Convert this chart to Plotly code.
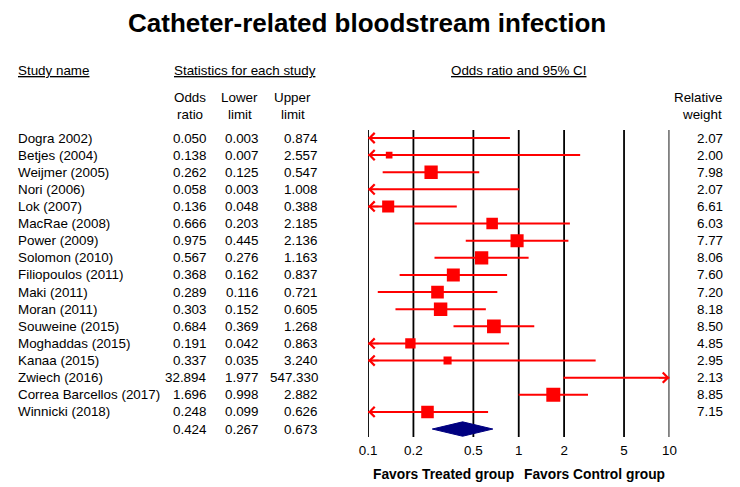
import math
import plotly.graph_objects as go

title = "Catheter-related bloodstream infection"
studies = ["Dogra 2002)", "Betjes (2004)", "Weijmer (2005)", "Nori (2006)", "Lok (2007)",
           "MacRae (2008)", "Power (2009)", "Solomon (2010)", "Filiopoulos (2011)", "Maki (2011)",
           "Moran (2011)", "Souweine (2015)", "Moghaddas (2015)", "Kanaa (2015)", "Zwiech (2016)",
           "Correa Barcellos (2017)", "Winnicki (2018)"]
odds = [0.050, 0.138, 0.262, 0.058, 0.136, 0.666, 0.975, 0.567, 0.368, 0.289,
        0.303, 0.684, 0.191, 0.337, 32.894, 1.696, 0.248]
lower = [0.003, 0.007, 0.125, 0.003, 0.048, 0.203, 0.445, 0.276, 0.162, 0.116,
         0.152, 0.369, 0.042, 0.035, 1.977, 0.998, 0.099]
upper = [0.874, 2.557, 0.547, 1.008, 0.388, 2.185, 2.136, 1.163, 0.837, 0.721,
         0.605, 1.268, 0.863, 3.240, 547.330, 2.882, 0.626]
weights = [2.07, 2.00, 7.98, 2.07, 6.61, 6.03, 7.77, 8.06, 7.60, 7.20,
           8.18, 8.50, 4.85, 2.95, 2.13, 8.85, 7.15]
pooled = (0.424, 0.267, 0.673)
tick_vals = [0.1, 0.2, 0.5, 1, 2, 5, 10]
tick_text = ["0.1", "0.2", "0.5", "1", "2", "5", "10"]
xmin, xmax = 0.1, 10

W, H = 740, 487
FONT = "Liberation Sans, Arial, sans-serif"
FS = 13.4
RED = "#ff0000"
NAVY = "#000080"

# pixel layout helpers
top_px, bot_px = 130, 437
row0_px, row_step = 138, 17.12
y_top = (top_px - row0_px) / row_step
y_bot = (bot_px - row0_px) / row_step

def py(px):  # pixel from top -> paper y
    return 1 - px / H

def row_paper(i):
    return py(row0_px + i * row_step)

fig = go.Figure()

# CI lines
for i, (o, lo, hi) in enumerate(zip(odds, lower, upper)):
    fig.add_trace(go.Scatter(x=[lo, hi], y=[i, i], mode="lines",
                             line=dict(color=RED, width=2), hoverinfo="skip",
                             showlegend=False))

# squares (area proportional to weight)
fig.add_trace(go.Scatter(x=odds, y=list(range(len(odds))), mode="markers",
                         marker=dict(symbol="square", color=RED, opacity=1,
                                     size=[4.7 * math.sqrt(w) for w in weights],
                                     line=dict(width=0)),
                         hoverinfo="skip", showlegend=False))

# pooled diamond
pi = len(studies)
est, plo, phi = pooled
fig.add_trace(go.Scatter(x=[plo, est, phi, est, plo], y=[pi, pi - 0.42, pi, pi + 0.42, pi],
                         mode="lines", fill="toself", fillcolor=NAVY,
                         line=dict(color=NAVY, width=1), hoverinfo="skip", showlegend=False))

# arrows for CIs beyond the axis range
for i, (lo, hi) in enumerate(zip(lower, upper)):
    if lo < xmin:
        fig.add_annotation(x=math.log10(xmin), y=i, xref="x", yref="y",
                           ax=12, ay=0, axref="pixel", ayref="pixel", text="",
                           showarrow=True, arrowhead=4, arrowsize=1.4, arrowwidth=1.4,
                           arrowcolor=RED, standoff=0)
    if hi > xmax:
        fig.add_annotation(x=math.log10(xmax), y=i, xref="x", yref="y",
                           ax=-12, ay=0, axref="pixel", ayref="pixel", text="",
                           showarrow=True, arrowhead=4, arrowsize=1.4, arrowwidth=1.4,
                           arrowcolor=RED, standoff=0)

# vertical reference lines
for v in tick_vals:
    fig.add_shape(type="line", x0=v, x1=v, y0=0, y1=1, xref="x", yref="y domain",
                  line=dict(color="black", width=1.8), layer="below")

def txt(x, y, s, anchor="left", size=FS, bold=False, under=False, yanchor="middle"):
    f = dict(family=FONT, size=size, color="black")
    if under:
        f["lineposition"] = "under"
    fig.add_annotation(x=x / W, y=y, xref="paper", yref="paper", text=(f"<b>{s}</b>" if bold else s),
                       showarrow=False, xanchor=anchor, yanchor=yanchor, font=f)

# title
txt(366, py(23), title, anchor="center", size=26, bold=True)

# headers
txt(7, py(70), "Study name", under=True)
txt(241, py(70), "Statistics for each study", anchor="center", under=True)
txt(521, py(70), "Odds ratio and 95% CI", anchor="center", under=True)
txt(185, py(98), "Odds", anchor="center")
txt(185, py(114), "ratio", anchor="center")
txt(236, py(98), "Lower", anchor="center")
txt(236, py(114), "limit", anchor="center")
txt(290, py(98), "Upper", anchor="center")
txt(290, py(114), "limit", anchor="center")
txt(731, py(98), "Relative", anchor="right")
txt(731, py(114), "weight", anchor="right")

# table rows
for i, name in enumerate(studies):
    yp = row_paper(i)
    txt(7, yp, name)
    txt(204, yp, f"{odds[i]:.3f}", anchor="right")
    txt(258, yp, f"{lower[i]:.3f}", anchor="right")
    txt(318, yp, f"{upper[i]:.3f}", anchor="right")
    txt(732, yp, f"{weights[i]:.2f}", anchor="right")
yp = row_paper(pi)
txt(204, yp, f"{pooled[0]:.3f}", anchor="right")
txt(258, yp, f"{pooled[1]:.3f}", anchor="right")
txt(318, yp, f"{pooled[2]:.3f}", anchor="right")

# favours labels
txt(444, py(474), "Favors Treated group", anchor="center", size=13.8, bold=True)
txt(598, py(474), "Favors Control group", anchor="center", size=13.8, bold=True)

fig.update_layout(
    width=W, height=H, margin=dict(l=0, r=0, t=0, b=0),
    paper_bgcolor="white", plot_bgcolor="white",
    font=dict(family=FONT, size=FS, color="black"),
    showlegend=False,
    xaxis=dict(type="log", range=[math.log10(xmin), math.log10(xmax)],
               domain=[367 / W, 675 / W], tickvals=tick_vals, ticktext=tick_text,
               showgrid=False, zeroline=False, showline=False, ticks="",
               ticklabelstandoff=4,
               tickfont=dict(family=FONT, size=FS), fixedrange=True),
    yaxis=dict(range=[y_bot, y_top], domain=[py(bot_px), py(top_px)],
               showgrid=False, zeroline=False, showline=False, showticklabels=False,
               fixedrange=True),
)

fig.write_html("out.html", config={"displayModeBar": False},
               post_script="document.body.style.margin='0';document.body.style.padding='0';")
